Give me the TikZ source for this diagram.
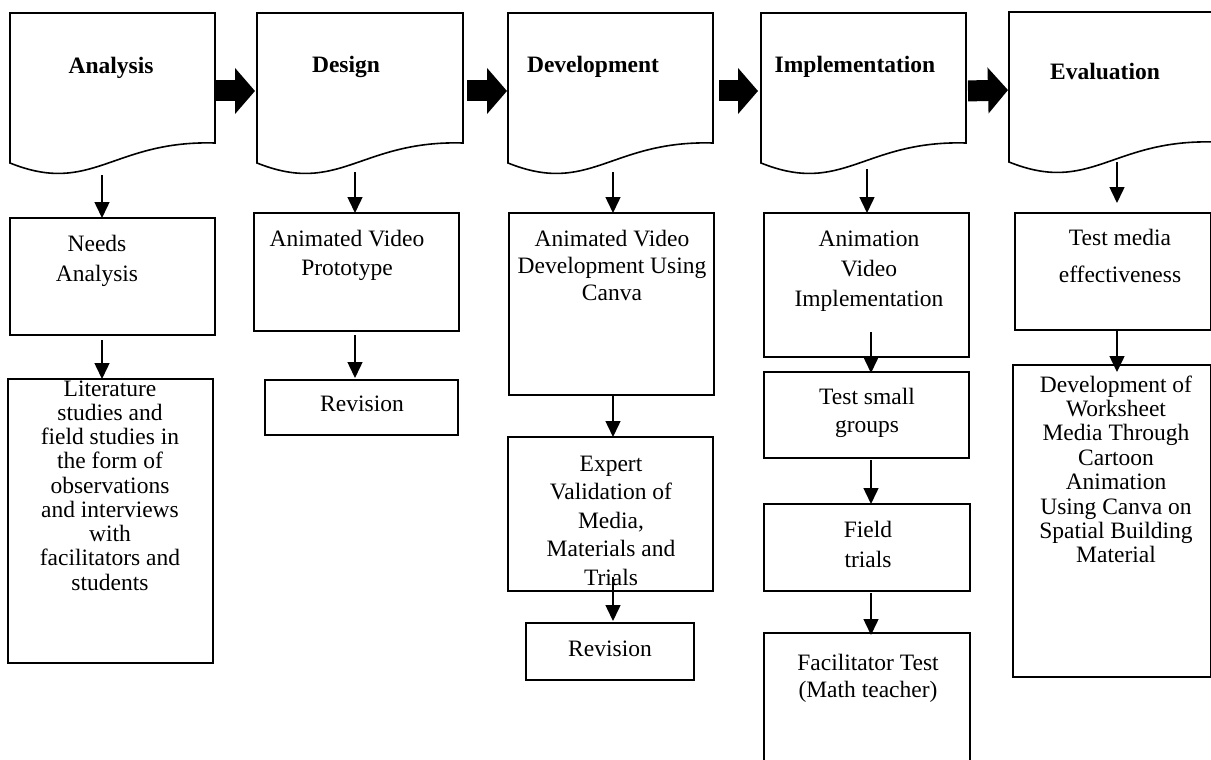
\documentclass[tikz,border=0pt]{standalone}
\usepackage{fontspec}
\setmainfont{Liberation Serif}
\usetikzlibrary{arrows.meta,calc}
\newcommand\mlines[1]{\begin{tabular}[t]{@{}c@{}}#1\end{tabular}}
\newcommand\docoutline[1]{%
  \draw[docline] (#1.north west) -- (#1.north east) -- ($(#1.north east)+(0,130)$)
    .. controls ($(#1.north west)!0.5!(#1.north east)+(0,127)$) and ($(#1.north west)!0.4!(#1.north east)+(0,183)$)
    .. ($(#1.north west)+(0,150)$) -- cycle;}
\begin{document}
\begin{tikzpicture}[x=1pt,y=-1pt,
  doc/.style={draw=none, minimum width=#1pt, minimum height=156pt, inner sep=0pt, outer sep=0pt},
  docline/.style={line width=1.6pt, line join=miter},
  box/.style 2 args={draw, line width=1.8pt, minimum width=#1pt, minimum height=#2pt, inner sep=0pt, outer sep=0pt},
  txt/.style={anchor=base, inner sep=0pt, align=center, font=\fontsize{23.5}{#1}\selectfont},
  txt/.default=24,
  ttl/.style={anchor=base, inner sep=0pt, font=\fontsize{23.5}{28}\selectfont\bfseries},
  big/.style={line width=21pt, -{Triangle[length=20pt,width=45pt]}},
  down/.style={line width=1.5pt, -{Triangle[length=16pt,width=15pt]}}
]
\useasboundingbox (0,0) rectangle (1211,760);
\clip (0,0) rectangle (1211,760);

% phase documents
\node[doc=205] (ana) at (112.5,91) {};
\node[doc=206] (des) at (360,91) {};
\node[doc=205] (dev) at (610.5,91) {};
\node[doc=205] (imp) at (863.5,91) {};
\node[doc=205] (eva) at (1111.5,90) {};
\docoutline{ana}
\docoutline{des}
\docoutline{dev}
\docoutline{imp}
\docoutline{eva}
\node[ttl] (anaT) at (111,74) {Analysis};
\node[ttl] (desT) at (346,73) {Design};
\node[ttl] (devT) at (593,73) {Development};
\node[ttl] (impT) at (855,73) {Implementation};
\node[ttl] (evaT) at (1105,80) {Evaluation};

% big arrows
\draw[big, shorten >=2pt] (ana.east) -- (des.west);
\draw[big, shorten <=4pt, shorten >=1pt] (des.east) -- (dev.west);
\draw[big, shorten <=6pt, shorten >=3pt] (dev.east) -- (imp.west);
\draw[big, shorten <=2pt, shorten >=1pt] (imp.east) -- (eva.west);

% column 1
\node[box={205}{117}] (needs) at (112.5,276.5) {};
\node[box={205}{284}] (lit) at (110.5,521) {};
\node[txt=30] (needsT) at (97,251) {\mlines{Needs\\Analysis}};
\node[txt=24.25] (litT) at (110,396) {\mlines{Literature\\studies and\\field studies in\\the form of\\observations\\and interviews\\with\\facilitators and\\students}};

% column 2
\node[box={205}{118}] (proto) at (356.5,272) {};
\node[box={193}{55}] (rev1) at (361.5,407.5) {};
\node[txt=29] (protoT) at (347,246) {\mlines{Animated Video\\Prototype}};
\node[txt] (rev1T) at (362,411) {Revision};

% column 3
\node[box={205}{182}] (devbox) at (611.5,304) {};
\node[box={205}{154}] (expert) at (610.5,514) {};
\node[box={168}{57}] (rev2) at (610,651.5) {};
\node[txt=27] (devboxT) at (612,246) {\mlines{Animated Video\\Development Using\\Canva}};
\node[txt=28.5] (expertT) at (611,471) {\mlines{Expert\\Validation of\\Media,\\Materials and\\Trials}};
\node[txt] (rev2T) at (610,656) {Revision};

% column 4
\node[box={205}{144}] (anim) at (866.5,285) {};
\node[box={205}{86}] (small) at (866.5,415) {};
\node[box={206}{87}] (field) at (867,547.5) {};
\node[box={206}{142}] (facil) at (867,704) {};
\node[txt=30] (animT) at (869,246) {\mlines{Animation\\Video\\Implementation}};
\node[txt=28] (smallT) at (867,404) {\mlines{Test small\\groups}};
\node[txt=30] (fieldT) at (868,537) {\mlines{Field\\trials}};
\node[txt=27] (facilT) at (868,670) {\mlines{Facilitator Test\\(Math teacher)}};

% column 5
\node[box={196}{117}] (media) at (1113,271.5) {};
\node[box={198}{312}] (work) at (1112,521) {};
\node[txt=37] (mediaT) at (1120,245) {\mlines{Test media\\effectiveness}};
\node[txt=24.4] (workT) at (1116,392) {\mlines{Development of\\Worksheet\\Media Through\\Cartoon\\Animation\\Using Canva on\\Spatial Building\\Material}};

% down arrows
\coordinate (c1) at (102,175);
\coordinate (c2) at (355,172);
\coordinate (c3) at (613,172);
\coordinate (c4) at (867,169);
\coordinate (c4b) at (871,169);
\coordinate (c5) at (1117,162);

\draw[down] (c1) -- (c1 |- needs.north);
\draw[down, shorten <=5pt] (needs.south -| c1) -- (lit.north -| c1);

\draw[down] (c2) -- (c2 |- proto.north);
\draw[down, shorten <=4pt, shorten >=2pt] (proto.south -| c2) -- (rev1.north -| c2);

\draw[down] (c3) -- (c3 |- devbox.north);
\draw[down] (devbox.south -| c3) -- (expert.north -| c3);
\draw[down, shorten <=-14pt, shorten >=2pt] (expert.south -| c3) -- (rev2.north -| c3);

\draw[down] (c4) -- (c4 |- anim.north);
\draw[down, shorten <=-25pt, shorten >=-1pt] (anim.south -| c4b) -- (small.north -| c4b);
\draw[down, shorten <=2pt] (small.south -| c4b) -- (field.north -| c4b);
\draw[down, shorten <=2pt, shorten >=-2pt] (field.south -| c4b) -- (facil.north -| c4b);

\draw[down, shorten >=10pt] (c5) -- (c5 |- media.north);
\draw[down, shorten >=-7pt] (media.south -| c5) -- (work.north -| c5);
\end{tikzpicture}
\end{document}
